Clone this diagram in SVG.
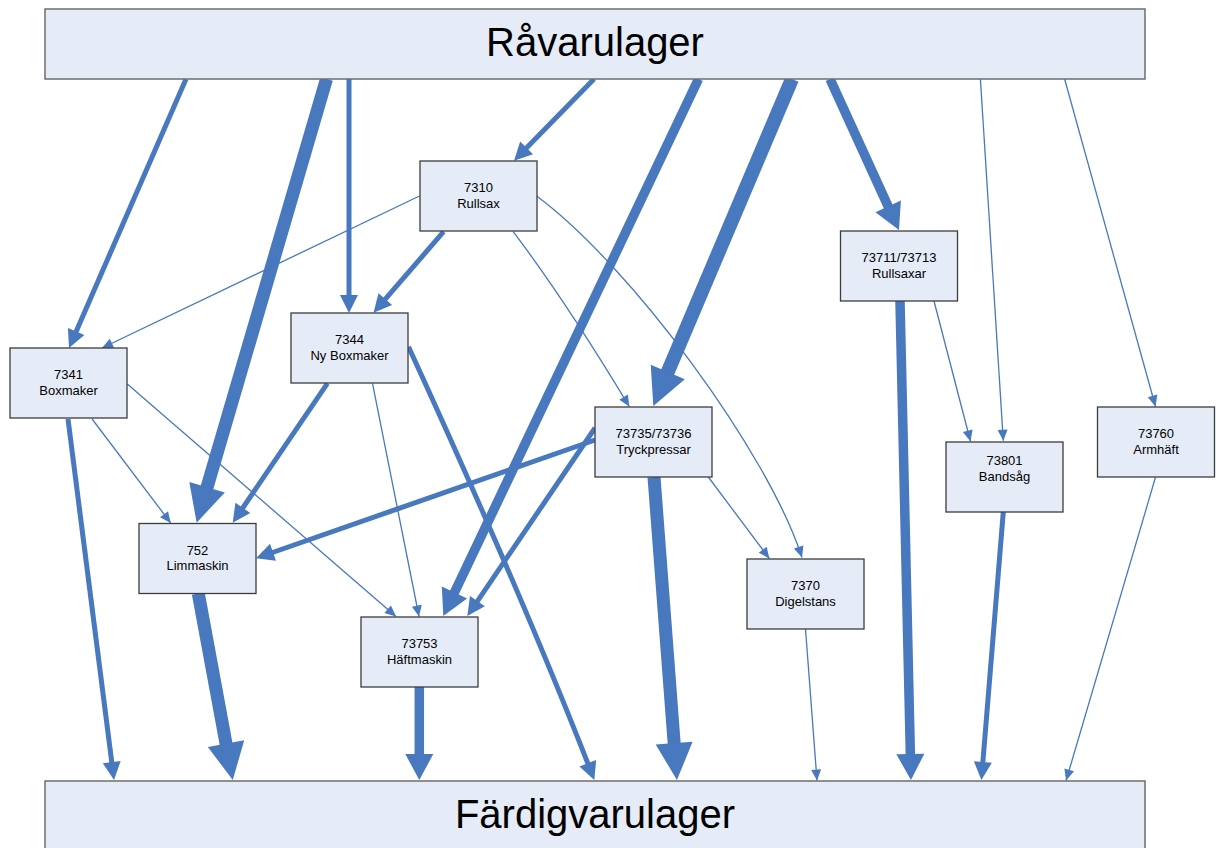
<svg xmlns="http://www.w3.org/2000/svg" width="1221" height="848" viewBox="0 0 1221 848">
<style>
.store{fill:#E6ECF7;stroke:#6E6E6E;stroke-width:1.5}
.node{fill:#E6ECF7;stroke:#3C3C3C;stroke-width:1.3}
.big{font-family:"Liberation Sans",Arial,sans-serif;font-size:40px;fill:#000;text-anchor:middle}
.lbl{font-family:"Liberation Sans",Arial,sans-serif;font-size:13px;fill:#000;text-anchor:middle}
.c{fill:none;stroke:#4878BE;stroke-linejoin:round}
.thin{stroke-width:1.3;marker-end:url(#aThin)}
.med{stroke-width:5;marker-end:url(#aMed)}
.heavy{stroke-width:9.5;marker-end:url(#aHeavy)}
.xheavy{stroke-width:13;marker-end:url(#aXHeavy)}
</style>
<defs>
<marker id="aThin" markerUnits="userSpaceOnUse" orient="auto" refX="0" refY="0" markerWidth="20" markerHeight="20" overflow="visible"><path d="M-11,-5 L0,0 L-11,5 Z" fill="#4878BE"/></marker>
<marker id="aMed" markerUnits="userSpaceOnUse" orient="auto" refX="0" refY="0" markerWidth="30" markerHeight="30" overflow="visible"><path d="M-2,-9 L16,0 L-2,9 Z" fill="#4878BE"/></marker>
<marker id="aHeavy" markerUnits="userSpaceOnUse" orient="auto" refX="0" refY="0" markerWidth="40" markerHeight="40" overflow="visible"><path d="M-2,-14 L24,0 L-2,14 Z" fill="#4878BE"/></marker>
<marker id="aXHeavy" markerUnits="userSpaceOnUse" orient="auto" refX="0" refY="0" markerWidth="50" markerHeight="50" overflow="visible"><path d="M-2,-18.5 L35,0 L-2,18.5 Z" fill="#4878BE"/></marker>
</defs>

<g id="connectors">
<path class="c med" d="M186,79 L75.4,333.3"/>
<path class="c xheavy" d="M326.5,79 L206.5,489.1"/>
<path class="c med" d="M349,79 L349,297"/>
<path class="c med" d="M594,79 L525.2,149.3"/>
<path class="c heavy" d="M698.5,79 L453.6,594.3"/>
<path class="c xheavy" style="stroke-width:14" d="M792,79 L667,373.8"/>
<path class="c heavy" d="M830,79 L889,208.2"/>
<path class="c thin" d="M980.4,79 L1003.3,440.7"/>
<path class="c thin" d="M1064.6,79 L1155.5,406.5"/>
<path class="c thin" d="M419.5,196 L102,348"/>
<path class="c med" d="M443.6,231.7 L384,300.6"/>
<path class="c thin" d="M513.2,231.7 Q565,300 629.3,406.5"/>
<path class="c thin" d="M536.6,196 C630,265 768,452 802,557.5"/>
<path class="c med" d="M327.4,383.3 L241.7,509.5"/>
<path class="c thin" d="M372.5,383.3 L419,616.5"/>
<path class="c med" d="M408.5,346.7 Q520,590 588.5,765.1"/>
<path class="c thin" d="M92.1,419 L170.7,523"/>
<path class="c thin" d="M127.3,384 L396,616.5"/>
<path class="c med" d="M68,419 L112,764.1"/>
<path class="c med" d="M595,440 L271.1,553"/>
<path class="c med" d="M595,428 L476.3,602.8"/>
<path class="c thin" d="M708.3,477 L769.3,558.5"/>
<path class="c xheavy" d="M654,477 L674.3,745.1"/>
<path class="c xheavy" d="M198.3,593.5 L226.4,745.6"/>
<path class="c heavy" d="M419.3,687 L419.3,756"/>
<path class="c thin" d="M805.5,629 L817,780.5"/>
<path class="c heavy" d="M900,301 L910.4,756"/>
<path class="c thin" d="M934,301 L970.5,441.5"/>
<path class="c med" d="M1003.3,512 L982.7,764.1"/>
<path class="c thin" d="M1155.5,477.3 L1066.1,780.5"/>
</g>

<g id="ravarulager">
<rect class="store" x="45" y="9" width="1100" height="70"/>
<text class="big" x="595" y="56">Råvarulager</text>
</g>
<g id="fardigvarulager">
<rect class="store" x="45" y="781" width="1100" height="80"/>
<text class="big" x="595" y="828">Färdigvarulager</text>
</g>

<g id="n7310">
<rect class="node" x="420" y="161" width="117" height="70"/>
<text class="lbl" x="478.5" y="192">7310</text>
<text class="lbl" x="478.5" y="207.5">Rullsax</text>
</g>
<g id="n73711">
<rect class="node" x="840.5" y="231" width="117" height="70"/>
<text class="lbl" x="899" y="262">73711/73713</text>
<text class="lbl" x="899" y="277.5">Rullsaxar</text>
</g>
<g id="n7344">
<rect class="node" x="291" y="313" width="117" height="70"/>
<text class="lbl" x="349.5" y="344">7344</text>
<text class="lbl" x="349.5" y="359.5">Ny Boxmaker</text>
</g>
<g id="n7341">
<rect class="node" x="10" y="348" width="117" height="70"/>
<text class="lbl" x="68.5" y="379">7341</text>
<text class="lbl" x="68.5" y="394.5">Boxmaker</text>
</g>
<g id="n73735">
<rect class="node" x="595" y="407" width="117" height="70"/>
<text class="lbl" x="653.5" y="438">73735/73736</text>
<text class="lbl" x="653.5" y="453.5">Tryckpressar</text>
</g>
<g id="n73760">
<rect class="node" x="1097.5" y="407" width="117" height="70"/>
<text class="lbl" x="1156" y="438">73760</text>
<text class="lbl" x="1156" y="453.5">Armhäft</text>
</g>
<g id="n73801">
<rect class="node" x="946" y="442" width="117" height="70"/>
<text class="lbl" x="1004.5" y="465">73801</text>
<text class="lbl" x="1004.5" y="480.5">Bandsåg</text>
</g>
<g id="n752">
<rect class="node" x="139" y="523.5" width="117" height="70"/>
<text class="lbl" x="197.5" y="554.5">752</text>
<text class="lbl" x="197.5" y="570">Limmaskin</text>
</g>
<g id="n7370">
<rect class="node" x="747" y="559" width="117" height="70"/>
<text class="lbl" x="805.5" y="590">7370</text>
<text class="lbl" x="805.5" y="605.5">Digelstans</text>
</g>
<g id="n73753">
<rect class="node" x="361" y="617" width="117" height="70"/>
<text class="lbl" x="419.5" y="648">73753</text>
<text class="lbl" x="419.5" y="663.5">Häftmaskin</text>
</g>
</svg>
